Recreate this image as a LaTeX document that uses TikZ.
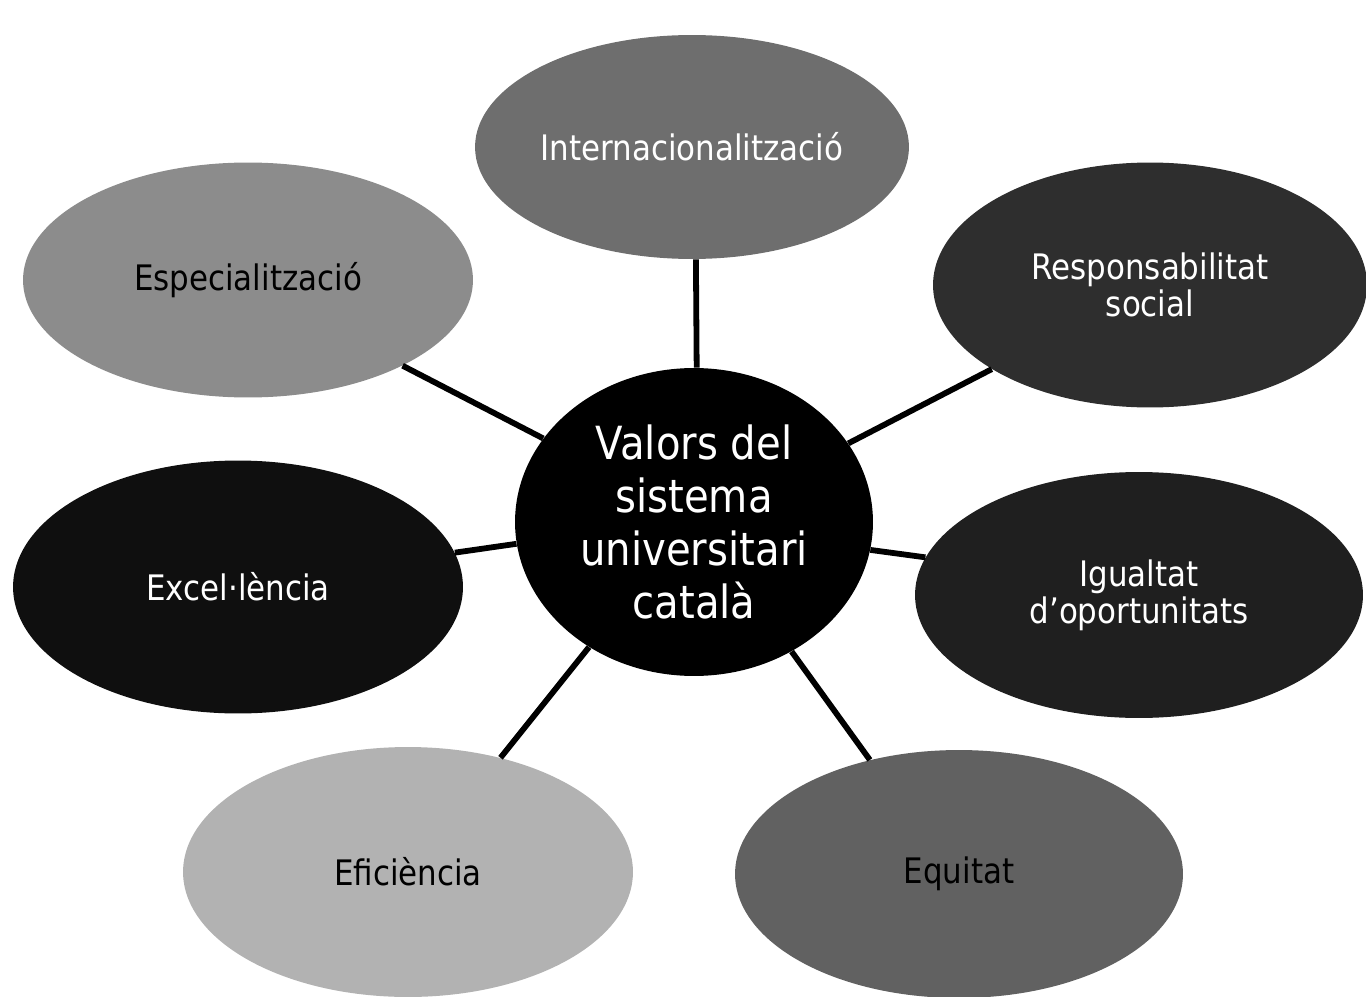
\documentclass[tikz,border=0pt]{standalone}
\usepackage{fontspec}
\setmainfont{DejaVu Sans}[FakeStretch=0.88]
\usetikzlibrary{shapes.geometric,positioning,calc}

\begin{document}
\begin{tikzpicture}[x=0.02cm,y=-0.02cm,
  valor/.style={ellipse, draw=none, inner sep=0pt, align=center, text=white,
    font=\fontsize{20}{21}\selectfont},
  nucli/.style={ellipse, fill=black, draw=none, inner sep=0pt, align=center, text=white,
    minimum width=7.16cm, minimum height=6.16cm, font=\fontsize{26}{30}\selectfont},
  branca/.style={draw=black, line width=3.3pt}]
\useasboundingbox (0,0) rectangle (1366,997);

% Centre
\node[nucli] (valors) at (694,522) {Valors del\\sistema\\universitari\\català};

% Values
\node[valor, fill=black!57, minimum width=8.68cm, minimum height=4.48cm] (intl) at (692,147) {Internacionalització};
\node[valor, fill=black!45, text=black, minimum width=9cm, minimum height=4.7cm] (espec) at (248,280) {Especialització};
\node[valor, fill=black!82, minimum width=8.68cm, minimum height=4.9cm] (resp) at (1150,285) {Responsabilitat\\social};
\node[valor, fill=black!94, minimum width=9cm, minimum height=5.06cm] (excel) at (238,587) {Excel·lència};
\node[valor, fill=black!88, minimum width=8.96cm, minimum height=4.92cm] (igual) at (1139,595) {Igualtat\\d’oportunitats};
\node[valor, fill=black!30, text=black, minimum width=9cm, minimum height=5cm] (efic) at (408,872) {Eficiència};
\node[valor, fill=black!62, text=black, minimum width=8.96cm, minimum height=4.96cm] (equit) at (959,874) {Equitat};

% Branches
\draw[branca] (valors.89) -- (intl.272);
\draw[branca] (valors.151) -- (espec.-29);
\draw[branca] (valors.27) -- (resp.208);
\draw[branca] (valors.187) -- (excel.9);
\draw[branca] (valors.-9) -- (igual.170);
\draw[branca] (valors.230) -- (efic.51);
\draw[branca] (valors.307) -- (equit.128);

\end{tikzpicture}
\end{document}
